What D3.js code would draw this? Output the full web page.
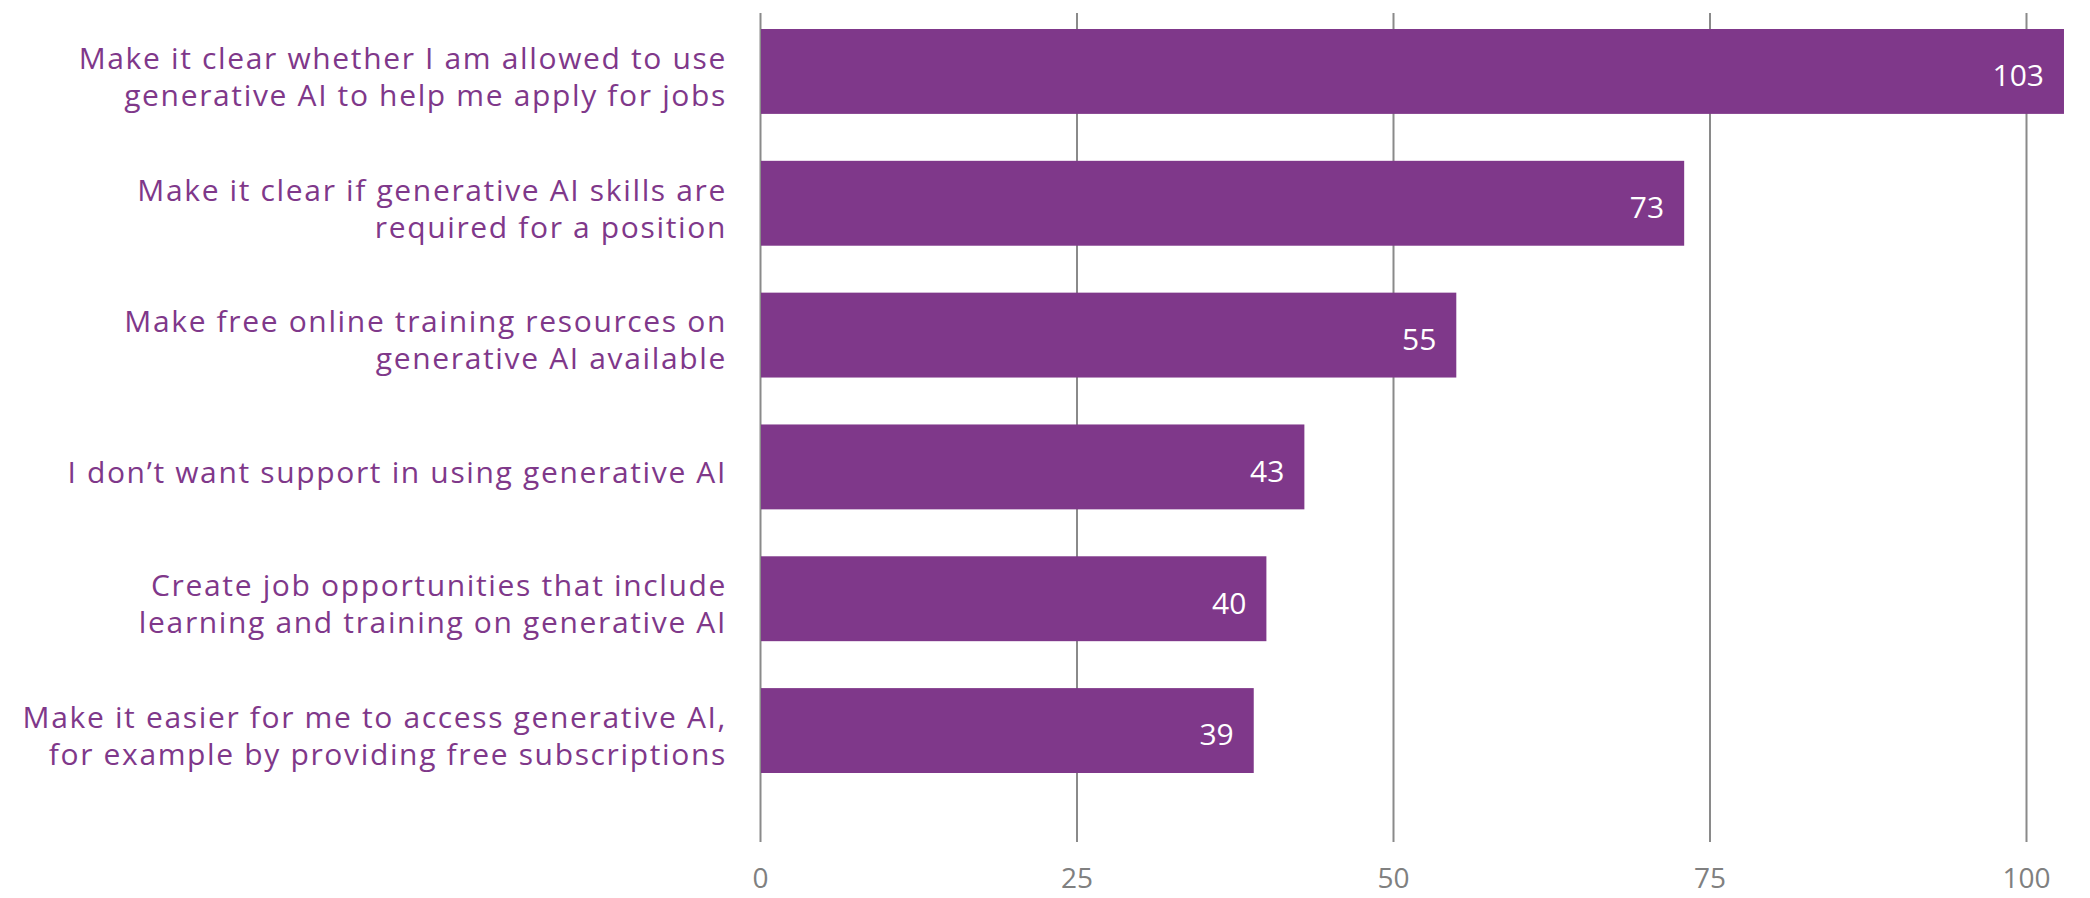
<!DOCTYPE html>
<html>
<head>
<meta charset="utf-8">
<script src="https://cdn.jsdelivr.net/npm/d3@7"></script>
<style>
  html, body { margin: 0; padding: 0; background: #fff; }
  svg { display: block; }
  text { font-family: "Open Sans", "Noto Sans", sans-serif; }
</style>
</head>
<body>
<svg id="chart"></svg>
<script>
const categories = [
  ['Make it clear whether I am allowed to use', 'generative AI to help me apply for jobs'],
  ['Make it clear if generative AI skills are', 'required for a position'],
  ['Make free online training resources on', 'generative AI available'],
  ['I don\u2019t want support in using generative AI'],
  ['Create job opportunities that include', 'learning and training on generative AI'],
  ['Make it easier for me to access generative AI,', 'for example by providing free subscriptions']
];
const values = [103, 73, 55, 43, 40, 39];
const tickValues = [0, 25, 50, 75, 100];

const w = 2090;
const h = 898;
const purple = '#7f388a';

const svg = d3.select('#chart')
  .attr('width', w)
  .attr('height', h);

const xScale = d3.scaleLinear()
  .domain([0, 100])
  .range([760, 2026]);

const yScale = d3.scaleBand()
  .domain(d3.range(values.length))
  .range([29, 773])
  .paddingInner(0.356)
  .paddingOuter(0);

// vertical gridlines + tick labels
const xAxis = d3.axisBottom(xScale)
  .tickValues(tickValues)
  .tickSize(-(842 - 13))
  .tickPadding(26);

svg.append('g')
  .attr('id', 'x-axis')
  .attr('transform', 'translate(0, 842)')
  .call(xAxis)
  .call(g => g.select('.domain').remove())
  .call(g => g.selectAll('line').attr('stroke', '#8a8a8a').attr('stroke-width', 2))
  .call(g => g.selectAll('text')
    .attr('fill', '#808080')
    .attr('font-size', 28)
    .attr('font-family', '"Open Sans", sans-serif'));

// bars
svg.selectAll('rect.bar')
  .data(values)
  .enter()
  .append('rect')
  .attr('class', 'bar')
  .attr('x', xScale(0) + 1)
  .attr('y', (d, i) => yScale(i))
  .attr('width', d => xScale(d) - xScale(0) - 1)
  .attr('height', yScale.bandwidth())
  .attr('fill', purple);

// value labels inside bars
svg.selectAll('text.value')
  .data(values)
  .enter()
  .append('text')
  .attr('class', 'value')
  .attr('x', d => xScale(d) - 20)
  .attr('y', (d, i) => yScale(i) + yScale.bandwidth() / 2 + 4)
  .attr('dy', '0.36em')
  .attr('text-anchor', 'end')
  .attr('fill', '#fff')
  .attr('font-size', 30)
  .text(d => d);

// category labels
const lineGap = 37;
const labels = svg.selectAll('text.cat')
  .data(categories)
  .enter()
  .append('text')
  .attr('class', 'cat')
  .attr('text-anchor', 'end')
  .attr('fill', purple)
  .attr('font-size', 30)
  .attr('letter-spacing', 1.65);

labels.each(function (lines, i) {
  const c = yScale(i) + yScale.bandwidth() / 2 + 5;
  const start = c - (lines.length - 1) * lineGap / 2;
  d3.select(this).selectAll('tspan')
    .data(lines)
    .enter()
    .append('tspan')
    .attr('x', 727)
    .attr('y', (d, j) => start + j * lineGap)
    .attr('dy', '0.36em')
    .text(d => d);
});
</script>
</body>
</html>
